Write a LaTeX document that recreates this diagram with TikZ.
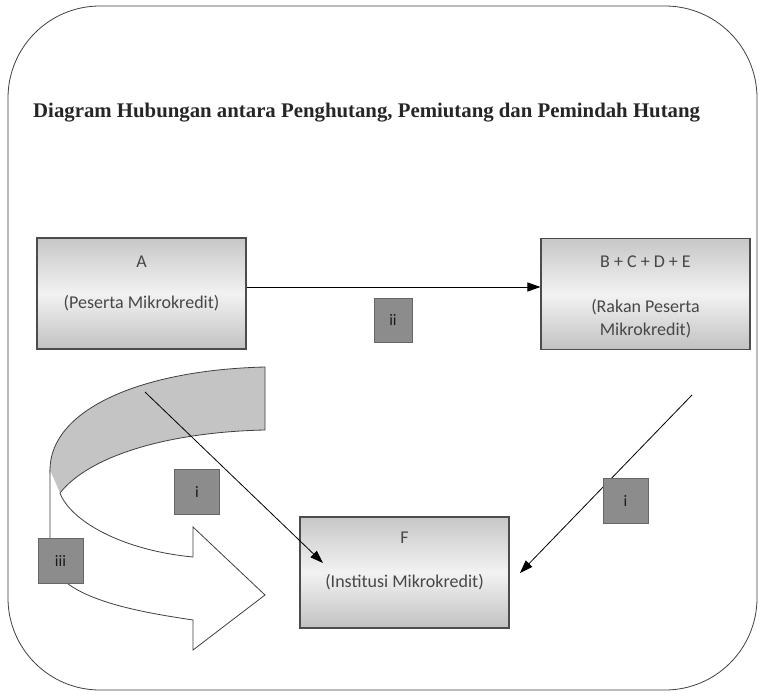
\documentclass[tikz,border=0pt]{standalone}
\usepackage{fontspec}
\setmainfont{Carlito}
\newfontfamily\titlefont{Liberation Serif}
\usetikzlibrary{arrows.meta}
\tikzset{
  mainbox/.style={draw=black!70, line width=1.1pt, minimum width=209pt, minimum height=111pt,
    top color=black!22, bottom color=black!24, middle color=black!5, inner sep=0pt},
  boxtext/.style={text=black!72, font=\fontsize{18}{21}\selectfont, inner sep=0pt},
  tag/.style={draw=black!60, line width=0.8pt, fill=black!45, minimum width=45pt, minimum height=45pt,
    inner sep=0pt, text=black!90, font=\fontsize{16}{18}\selectfont},
  conn/.style={draw=black, line width=0.8pt, -{Triangle[length=13pt,width=9pt]}},
  outline/.style={draw=black!75, line width=0.8pt}
}
\begin{document}
\begin{tikzpicture}[x=1pt,y=-1pt]
\useasboundingbox (0,0) rectangle (763,696);
\fill[white] (0,0) rectangle (763,696);
\draw[outline, rounded corners=92pt] (8,6) rectangle (757,690);
% title
\node[anchor=west, inner sep=0pt, font=\titlefont\bfseries\fontsize{20.8}{24}\selectfont, text=black!85] (title) at (33,113)
  {Diagram Hubungan antara Penghutang, Pemiutang dan Pemindah Hutang};
% boxes
\node[mainbox] (A) at (141.5,293.5) {};
\node[boxtext] (Aa) at (141.5,262) {A};
\node[boxtext] (Ab) at (141.5,303) {(Peserta Mikrokredit)};
\node[mainbox] (B) at (645.5,294) {};
\node[boxtext] (Ba) at (645.5,262) {B + C + D + E};
\node[boxtext] (Bb) at (645.5,307) {(Rakan Peserta};
\node[boxtext] (Bc) at (645.5,330) {Mikrokredit)};
\node[mainbox] (F) at (404.5,572.5) {};
\node[boxtext] (Fa) at (404.5,538) {F};
\node[boxtext] (Fb) at (404.5,582) {(Institusi Mikrokredit)};
% curved arrow: shaded back band
\fill[black!23] (265,367) .. controls (140,370) and (50,410) .. (50,470)
   .. controls (50,480) and (54,488) .. (60,493)
   .. controls (90,455) and (170,432) .. (265,430) -- cycle;
\draw[outline] (265,367) .. controls (140,370) and (50,410) .. (50,470)
   .. controls (50,480) and (54,488) .. (60,493)
   .. controls (90,455) and (170,432) .. (265,430) -- cycle;
% white front part
\draw[outline, fill=white] (50,470) -- (50,555) .. controls (52,598) and (140,612) .. (193,620)
   -- (193,650) -- (265,595) -- (193,527) -- (193,557)
   .. controls (120,550) and (70,520) .. (60,493);
% connectors
\coordinate (s1) at (145,392);
\coordinate (t1) at (323,563);
\coordinate (s2) at (692,395);
\coordinate (t2) at (520,573);
\draw[conn] ([yshift=6.5pt]A.east) -- ([yshift=7pt]B.west);
\draw[conn] (s1) -- (t1);
\draw[conn] (s2) -- (t2);
% tags
\node[tag, minimum width=38pt, minimum height=44pt] (tii) at (393,320) {ii};
\node[tag] (ti1) at (197,491.5) {i};
\node[tag] (ti2) at (625.5,500.5) {i};
\node[tag] (tiii) at (60.5,560.5) {iii};
\end{tikzpicture}
\end{document}
